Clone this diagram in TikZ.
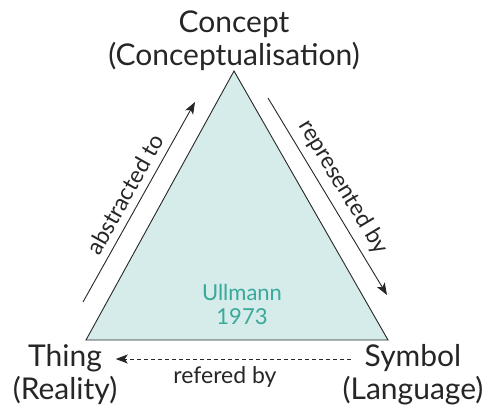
\documentclass[tikz,border=0pt]{standalone}
\usepackage{fontspec}
\setmainfont{Lato}
\definecolor{trifill}{HTML}{D5ECEA}
\definecolor{tritext}{HTML}{3AA89A}
\tikzset{
  corner/.style={align=center,font=\fontsize{30}{33}\selectfont,text=black!85},
  rel/.style={font=\fontsize{23}{26}\selectfont,text=black!85},
  relarrow/.style={-{Stealth[length=12pt,width=9pt,inset=3pt]},line width=0.9pt,draw=black!85}
}
\usetikzlibrary{arrows.meta}
\begin{document}
\begin{tikzpicture}[x=1pt,y=-1pt]
			\useasboundingbox (0,0) rectangle (492,408);
			% triangle
			\coordinate (top) at (234,71);
			\coordinate (left) at (86,340);
			\coordinate (right) at (388,340);
			\filldraw[fill=trifill,line width=0.9pt,draw=black!85] (top) -- (left) -- (right) -- cycle;
			\node[font=\fontsize{22}{24}\selectfont,text=tritext,align=center] (ullmann) at (242,304) {Ullmann\\1973};
			% corners
			\node[corner] (concept) at (234,41) {Concept\\(Conceptualisation)};
			\node[corner] (thing) at (65,375) {Thing\\(Reality)};
			\node[corner] (symbol) at (413,375) {Symbol\\(Language)};
			% relations
			\coordinate (a1) at (83,302);
			\coordinate (a2) at (195,102);
			\coordinate (r1) at (268,98);
			\coordinate (r2) at (387,295);
			\draw[relarrow] (a1) -- node[rel,sloped,above=4pt] (abstr) {abstracted to} (a2);
			\draw[relarrow] (r1) -- node[rel,sloped,above=4pt] (repr) {represented by} (r2);
			\draw[relarrow,dash pattern=on 4pt off 3pt,shorten <=-12pt,shorten >=-5pt] (symbol.west|-0,359) -- (thing.east|-0,359);
			\node[rel] (refer) at (225,377) {refered by};
\end{tikzpicture}
\end{document}
